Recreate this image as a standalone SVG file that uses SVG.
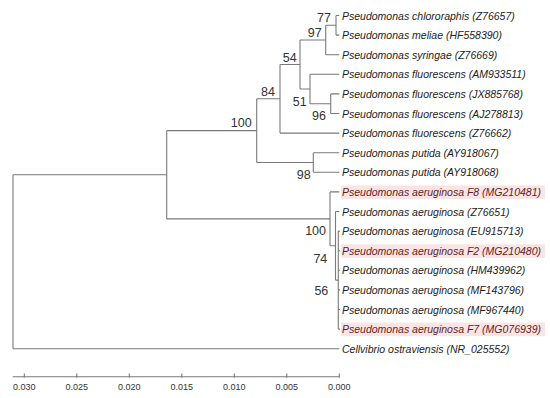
<svg xmlns="http://www.w3.org/2000/svg" width="550" height="398" viewBox="0 0 550 398">
<style>
.br{fill:none;stroke:#7a7a7a;stroke-width:1.1}
.lf{font-family:"Liberation Sans",Arial,sans-serif;font-size:10.5px;font-style:italic;fill:#222}
.hl .lf{fill:#5e1e1e}
.hlbg{fill:#fce4e4}
.bs{font-family:"Liberation Sans",Arial,sans-serif;font-size:12.5px;fill:#333;text-anchor:end}
.ax{font-family:"Liberation Sans",Arial,sans-serif;font-size:9px;fill:#333;text-anchor:middle}
</style>
<rect width="550" height="398" fill="#fff"/>
<g id="connectors" class="br">
<path d="M13,174.8V348.7M13,174.8H166.7M13,348.7H339.3"/>
<path d="M166.7,130.65V218.9M166.7,130.65H256.7M166.7,218.9H330"/>
<path d="M256.7,98.8V162.5M256.7,98.8H280M256.7,162.5H313.3"/>
<path d="M280,64.5V133.1M280,64.5H300M280,133.1H339.3"/>
<path d="M300,40V89M300,40H325.7M300,89H310"/>
<path d="M325.7,25.3V54.7M325.7,25.3H336M325.7,54.7H339.3"/>
<path d="M336,15.5V35.1M336,15.5H339.3M336,35.1H339.3"/>
<path d="M310,74.3V103.7M310,74.3H339.3M310,103.7H330.7"/>
<path d="M330.7,93.9V113.5M330.7,93.9H339.3M330.7,113.5H339.3"/>
<path d="M313.3,152.7V172.3M313.3,152.7H339.3M313.3,172.3H339.3"/>
<path d="M330,191.9V245.8M330,191.9H339.3M330,245.8H335.5"/>
<path d="M335.5,211.5V280.1M335.5,211.5H339.3M335.5,280.1H338.3"/>
<path d="M338.3,231.1V329.1M338.3,231.1H340M338.3,250.7H340M338.3,270.3H340M338.3,289.9H340M338.3,309.5H340M338.3,329.1H340"/>
</g>
<g id="bootstrap">
<text class="bs" x="331" y="21.5">77</text>
<text class="bs" x="321.7" y="37">97</text>
<text class="bs" x="296.7" y="61.7">54</text>
<text class="bs" x="275" y="96">84</text>
<text class="bs" x="306.7" y="106">51</text>
<text class="bs" x="326" y="120">96</text>
<text class="bs" x="251.7" y="127">100</text>
<text class="bs" x="310.7" y="179">98</text>
<text class="bs" x="326" y="235">100</text>
<text class="bs" x="327.3" y="263">74</text>
<text class="bs" x="328.3" y="295">56</text>
</g>
<g id="leaf1"><text class="lf" x="342" y="19.5">Pseudomonas chlororaphis (Z76657)</text></g>
<g id="leaf2"><text class="lf" x="342" y="39.1">Pseudomonas meliae (HF558390)</text></g>
<g id="leaf3"><text class="lf" x="342" y="58.7">Pseudomonas syringae (Z76669)</text></g>
<g id="leaf4"><text class="lf" x="342" y="78.3">Pseudomonas fluorescens (AM933511)</text></g>
<g id="leaf5"><text class="lf" x="342" y="97.9">Pseudomonas fluorescens (JX885768)</text></g>
<g id="leaf6"><text class="lf" x="342" y="117.5">Pseudomonas fluorescens (AJ278813)</text></g>
<g id="leaf7"><text class="lf" x="342" y="137.1">Pseudomonas fluorescens (Z76662)</text></g>
<g id="leaf8"><text class="lf" x="342" y="156.7">Pseudomonas putida (AY918067)</text></g>
<g id="leaf9"><text class="lf" x="342" y="176.3">Pseudomonas putida (AY918068)</text></g>
<g id="leaf10" class="hl"><rect class="hlbg" x="341" y="185.4" width="204" height="13.6"/><text class="lf" x="342" y="195.9">Pseudomonas aeruginosa F8 (MG210481)</text></g>
<g id="leaf11"><text class="lf" x="342" y="215.5">Pseudomonas aeruginosa (Z76651)</text></g>
<g id="leaf12"><text class="lf" x="342" y="235.1">Pseudomonas aeruginosa (EU915713)</text></g>
<g id="leaf13" class="hl"><rect class="hlbg" x="341" y="244.2" width="204" height="13.6"/><text class="lf" x="342" y="254.7">Pseudomonas aeruginosa F2 (MG210480)</text></g>
<g id="leaf14"><text class="lf" x="342" y="274.3">Pseudomonas aeruginosa (HM439962)</text></g>
<g id="leaf15"><text class="lf" x="342" y="293.9">Pseudomonas aeruginosa (MF143796)</text></g>
<g id="leaf16"><text class="lf" x="342" y="313.5">Pseudomonas aeruginosa (MF967440)</text></g>
<g id="leaf17" class="hl"><rect class="hlbg" x="341" y="322.6" width="204" height="13.6"/><text class="lf" x="342" y="333.1">Pseudomonas aeruginosa F7 (MG076939)</text></g>
<g id="leaf18"><text class="lf" x="342" y="352.7">Cellvibrio ostraviensis (NR_025552)</text></g>
<g id="scale">
<path class="br" d="M12.7,376.7H339.3M24.3,373.5V377.8M76.8,373.5V377.8M129.3,373.5V377.8M181.8,373.5V377.8M234.3,373.5V377.8M286.8,373.5V377.8M339.3,373.5V377.8"/>
<text class="ax" x="24.3" y="389.5">0.030</text>
<text class="ax" x="76.8" y="389.5">0.025</text>
<text class="ax" x="129.3" y="389.5">0.020</text>
<text class="ax" x="181.8" y="389.5">0.015</text>
<text class="ax" x="234.3" y="389.5">0.010</text>
<text class="ax" x="286.8" y="389.5">0.005</text>
<text class="ax" x="339.3" y="389.5">0.000</text>
</g>
</svg>
